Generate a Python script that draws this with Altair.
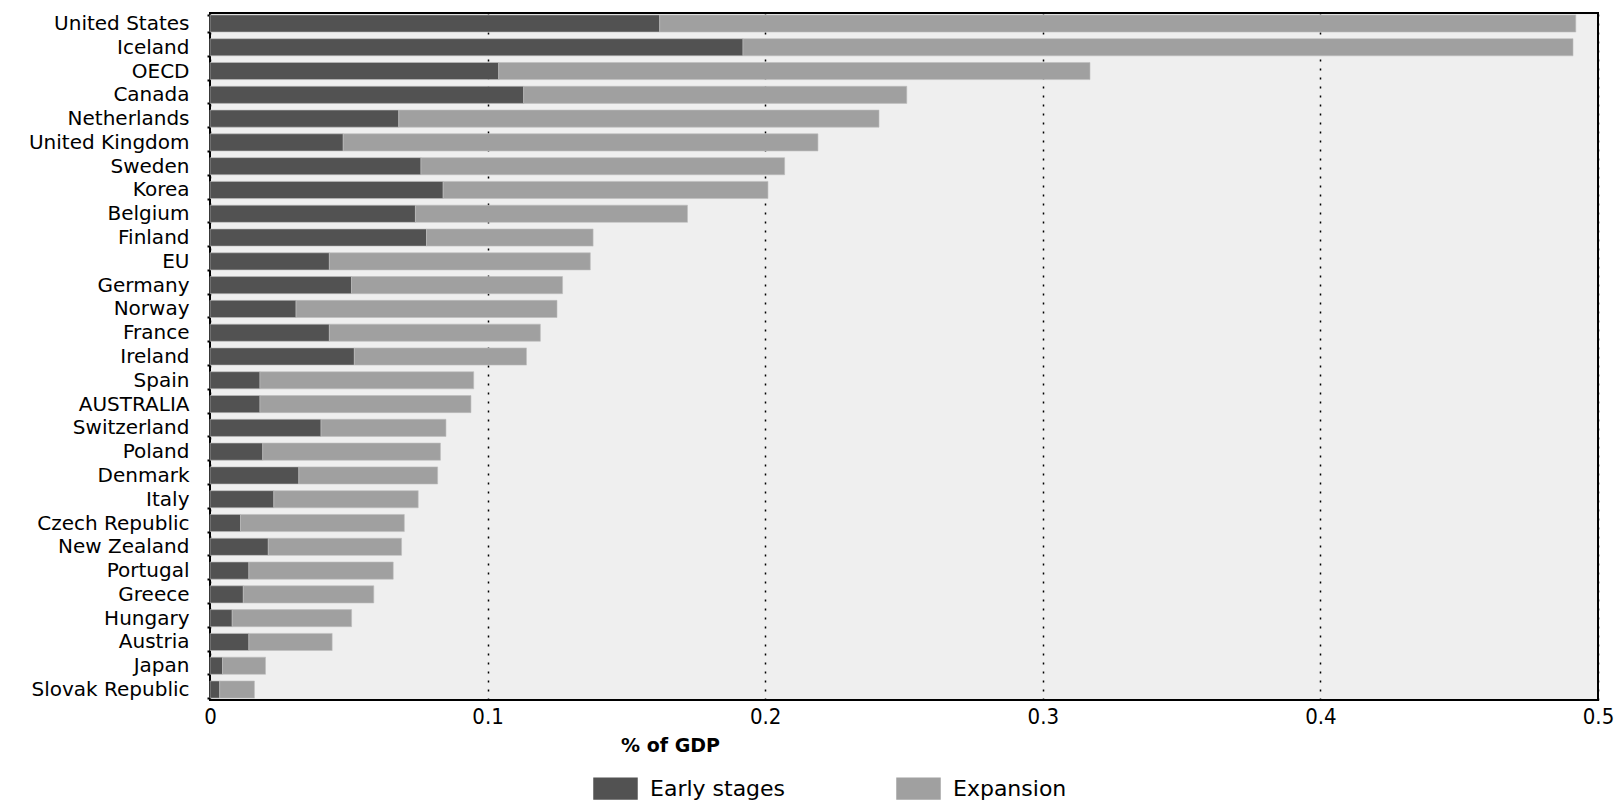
import altair as alt
import pandas as pd

countries = ["United States", "Iceland", "OECD", "Canada", "Netherlands", "United Kingdom",
             "Sweden", "Korea", "Belgium", "Finland", "EU", "Germany", "Norway", "France",
             "Ireland", "Spain", "AUSTRALIA", "Switzerland", "Poland", "Denmark", "Italy",
             "Czech Republic", "New Zealand", "Portugal", "Greece", "Hungary", "Austria",
             "Japan", "Slovak Republic"]
early = [0.162, 0.192, 0.104, 0.113, 0.068, 0.048, 0.076, 0.084, 0.074, 0.078, 0.043,
         0.051, 0.031, 0.043, 0.052, 0.018, 0.018, 0.040, 0.019, 0.032, 0.023, 0.011,
         0.021, 0.014, 0.012, 0.008, 0.014, 0.0045, 0.0035]
total = [0.492, 0.491, 0.317, 0.251, 0.241, 0.219, 0.207, 0.201, 0.172, 0.138, 0.137,
         0.127, 0.125, 0.119, 0.114, 0.095, 0.094, 0.085, 0.083, 0.082, 0.075, 0.070,
         0.069, 0.066, 0.059, 0.051, 0.044, 0.020, 0.016]
series = ["Early stages", "Expansion"]
colors = ["#525252", "#a0a0a0"]
x_ticks = [0, 0.1, 0.2, 0.3, 0.4, 0.5]

rows = []
for c, e, t in zip(countries, early, total):
    rows.append({"Country": c, "Series": series[0], "Value": e, "Order": 0})
    rows.append({"Country": c, "Series": series[1], "Value": round(t - e, 4), "Order": 1})
df = pd.DataFrame(rows)

FONT = "DejaVu Sans, sans-serif"
FONT_C = "DejaVu Sans Condensed, DejaVu Sans, sans-serif"

chart = alt.Chart(df).mark_bar(stroke="#bdbdbd", strokeWidth=0.6).encode(
    y=alt.Y("Country:N", sort=countries, title=None,
            scale=alt.Scale(paddingInner=0.28, paddingOuter=0.08),
            axis=alt.Axis(labelFont=FONT, labelFontSize=20, labelColor="black",
                          labelPadding=18, ticks=True, tickBand="extent", tickSize=3,
                          tickColor="black", tickWidth=2, domain=False, grid=False)),
    x=alt.X("Value:Q", stack="zero", title="% of GDP",
            scale=alt.Scale(domain=[0, 0.5], nice=False),
            axis=alt.Axis(values=x_ticks, format="~g", labelFont=FONT_C, labelFontSize=22,
                          labelColor="black", labelPadding=6, labelFlush=False,
                          ticks=False, domain=False,
                          grid=True, gridColor="black", gridDash=[2, 7], gridWidth=1.5,
                          titleFont=FONT, titleFontSize=19, titleFontWeight="bold",
                          titleColor="black", titleAlign="center", titleBaseline="middle",
                          titleX=460, titleY=45, titleAnchor="start")),
    color=alt.Color("Series:N", scale=alt.Scale(domain=series, range=colors),
                    legend=alt.Legend(title=None, orient="none", legendX=383, legendY=753,
                                      direction="horizontal",
                                      symbolType="M-1,-0.5H1V0.5H-1Z", symbolSize=1980,
                                      symbolStrokeWidth=0, symbolOpacity=1,
                                      labelFont=FONT, labelFontSize=22, labelColor="black",
                                      labelOffset=12, columnPadding=110, labelLimit=300)),
    order=alt.Order("Order:Q"),
).properties(
    width=1388, height=687,
    autosize=alt.AutoSizeParams(type="none"),
    padding={"left": 202, "top": 5, "right": 17, "bottom": 100},
).configure(
    background="white"
).configure_view(
    fill="#efefef", stroke="black", strokeWidth=2
)

chart.save("out.html", embed_options={"renderer": "svg", "actions": False})
